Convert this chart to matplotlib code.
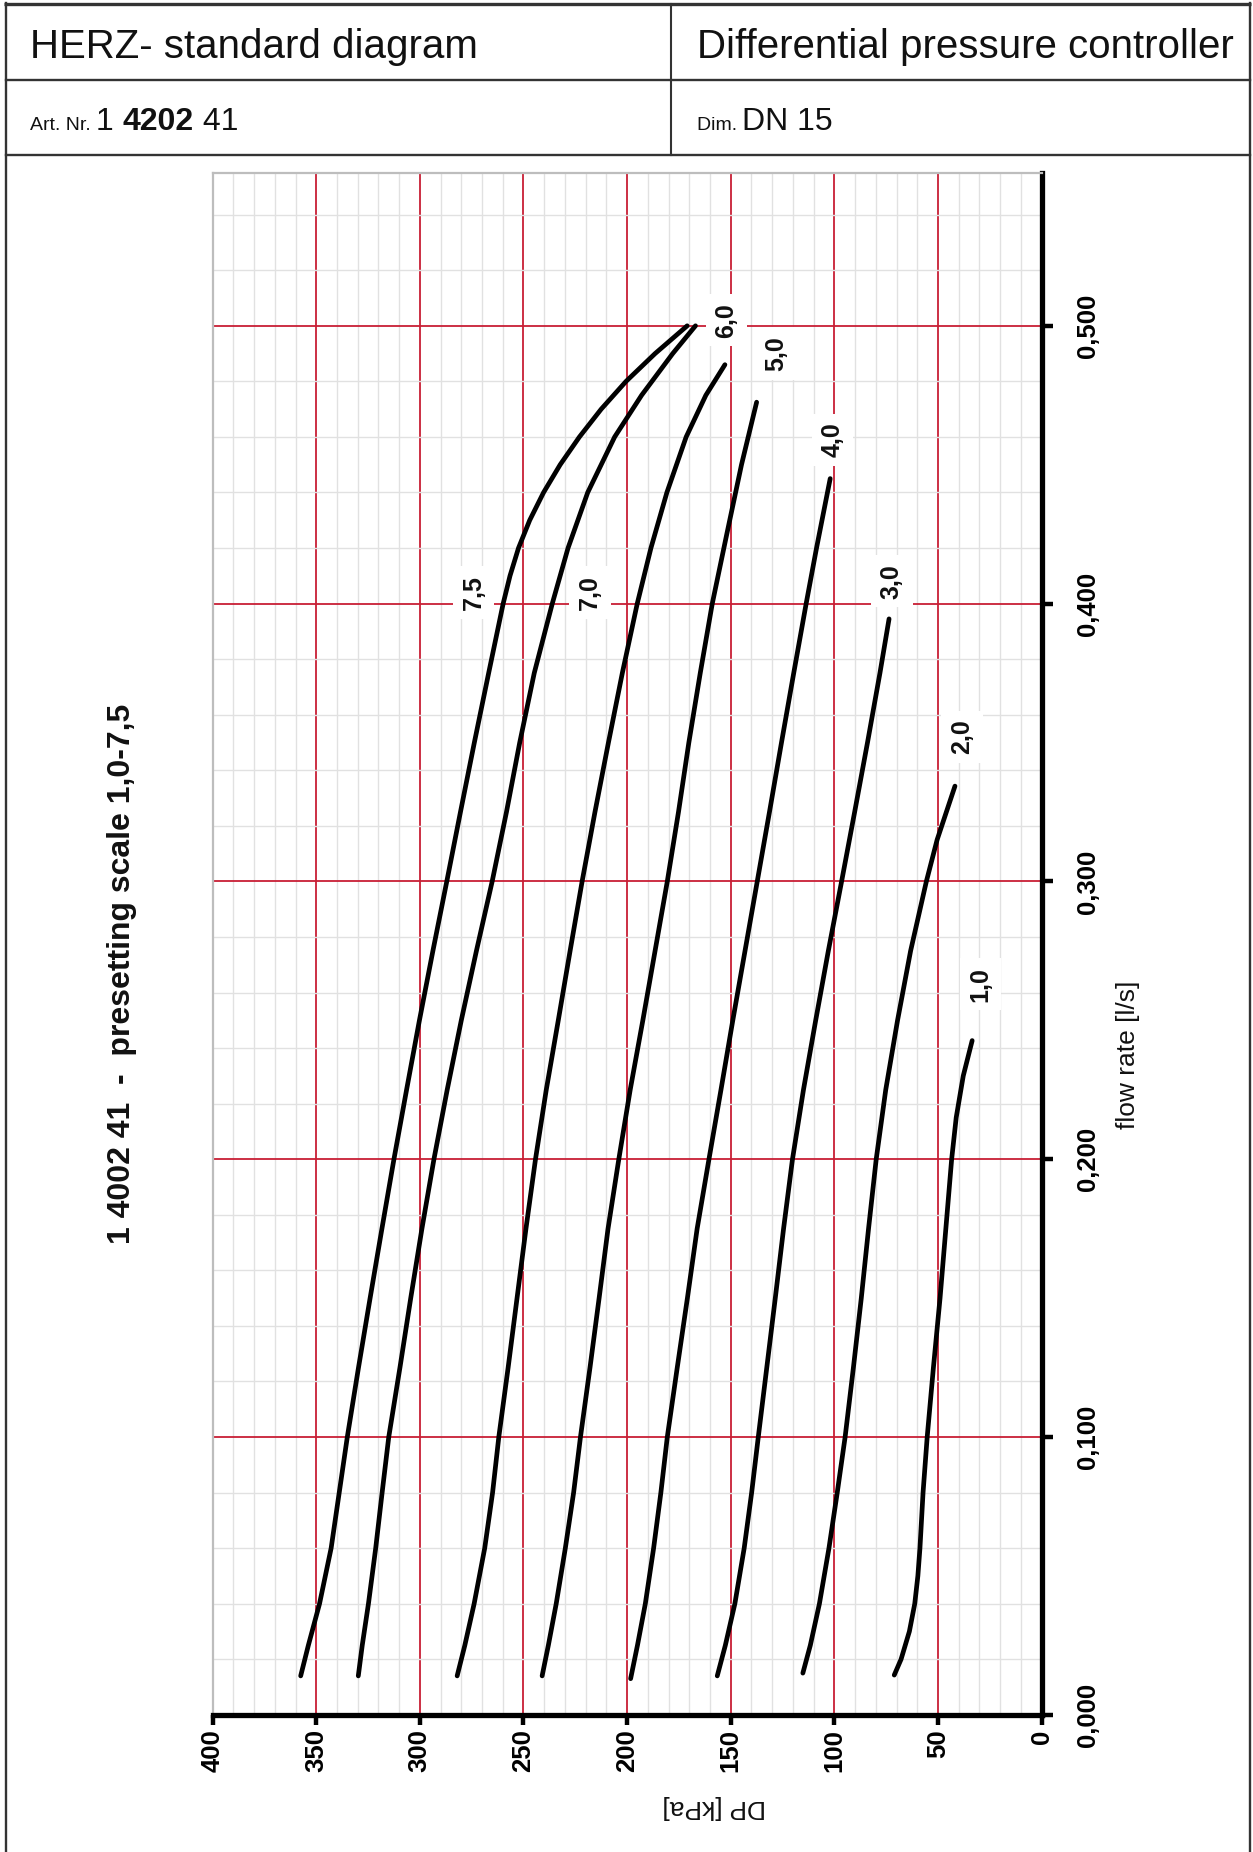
import matplotlib
matplotlib.use("Agg")
import matplotlib.pyplot as plt
from matplotlib.ticker import MultipleLocator

plt.rcParams['font.family'] = ['Liberation Sans', 'DejaVu Sans']

# ---- characteristic curves: flow rate [l/s] and differential pressure [kPa] ----
q_7_5 = [0.014, 0.025, 0.040, 0.060, 0.080, 0.100, 0.125, 0.150, 0.175, 0.200, 0.225, 0.250,
         0.275, 0.300, 0.325, 0.350, 0.375, 0.400, 0.410, 0.420, 0.430, 0.440, 0.450, 0.460,
         0.470, 0.480, 0.490, 0.500]
dp_7_5 = [357.5, 353.8, 348.4, 342.8, 338.9, 335.0, 329.6, 324.0, 318.3, 312.5, 306.4, 300.2,
          293.7, 287.0, 280.4, 273.7, 266.8, 259.8, 256.5, 252.4, 247.0, 240.3, 232.3, 223.0,
          212.5, 200.5, 186.5, 171.0]

q_7_0 = [0.014, 0.025, 0.040, 0.060, 0.080, 0.100, 0.125, 0.150, 0.175, 0.200, 0.225, 0.250,
         0.275, 0.300, 0.325, 0.350, 0.375, 0.400, 0.420, 0.440, 0.460, 0.475, 0.490, 0.500]
dp_7_0 = [329.7, 327.8, 324.8, 321.3, 318.2, 315.0, 309.6, 304.4, 299.0, 293.2, 286.8, 280.0,
          272.7, 265.1, 258.2, 251.8, 244.8, 236.1, 228.5, 219.0, 206.0, 193.0, 178.0, 167.0]

q_6_0 = [0.014, 0.025, 0.040, 0.060, 0.080, 0.100, 0.125, 0.150, 0.175, 0.200, 0.225, 0.250,
         0.275, 0.300, 0.325, 0.350, 0.375, 0.400, 0.420, 0.440, 0.460, 0.475, 0.486]
dp_6_0 = [282.0, 278.3, 273.8, 268.7, 264.9, 261.9, 257.4, 253.1, 248.8, 244.2, 239.0, 233.2,
          227.5, 221.7, 215.5, 209.0, 202.3, 195.1, 188.5, 180.8, 171.5, 162.0, 152.8]

q_5_0 = [0.014, 0.025, 0.040, 0.060, 0.080, 0.100, 0.125, 0.150, 0.175, 0.200, 0.225, 0.250,
         0.275, 0.300, 0.325, 0.350, 0.375, 0.400, 0.425, 0.450, 0.4725]
dp_5_0 = [241.0, 238.0, 234.2, 229.8, 225.8, 222.5, 217.9, 213.5, 209.2, 204.0, 198.5, 192.4,
          186.5, 180.6, 175.2, 170.2, 164.7, 158.9, 151.9, 144.8, 137.5]

q_4_0 = [0.013, 0.025, 0.040, 0.060, 0.080, 0.100, 0.125, 0.150, 0.175, 0.200, 0.225, 0.250,
         0.275, 0.300, 0.325, 0.350, 0.375, 0.400, 0.420, 0.445]
dp_4_0 = [198.3, 195.0, 191.2, 187.2, 183.7, 180.6, 175.8, 170.9, 166.2, 160.5, 154.7, 149.0,
          143.1, 137.2, 131.3, 125.5, 119.6, 113.6, 108.6, 102.0]

q_3_0 = [0.014, 0.025, 0.040, 0.060, 0.080, 0.100, 0.125, 0.150, 0.175, 0.200, 0.225, 0.250,
         0.275, 0.300, 0.325, 0.350, 0.375, 0.3945]
dp_3_0 = [156.5, 152.6, 148.0, 143.5, 139.9, 136.7, 132.6, 128.5, 124.5, 120.2, 114.9, 109.0,
          102.9, 96.5, 90.2, 84.0, 78.0, 73.6]

q_2_0 = [0.015, 0.025, 0.040, 0.060, 0.080, 0.100, 0.125, 0.150, 0.175, 0.200, 0.225, 0.250,
         0.275, 0.300, 0.315, 0.3343]
dp_2_0 = [115.2, 111.6, 107.2, 102.6, 98.6, 94.8, 90.8, 87.0, 83.5, 79.8, 75.2, 69.5,
          63.2, 55.6, 50.4, 41.8]

q_1_0 = [0.0143, 0.020, 0.030, 0.040, 0.050, 0.060, 0.080, 0.100, 0.125, 0.150, 0.175, 0.200,
         0.215, 0.230, 0.2427]
dp_1_0 = [71.1, 67.8, 63.8, 61.2, 59.7, 58.7, 57.2, 55.2, 52.2, 49.0, 46.2, 43.4,
          41.2, 37.8, 33.5]

# presetting labels and where they are written
presettings = ["7,5", "7,0", "6,0", "5,0", "4,0", "3,0", "2,0", "1,0"]
label_dp = [274.0, 218.0, 152.0, 128.0, 101.0, 72.3, 38.3, 29.5]
label_q = [0.404, 0.404, 0.502, 0.490, 0.459, 0.408, 0.352, 0.263]

# axis ticks
dp_ticks = [400, 350, 300, 250, 200, 150, 100, 50, 0]
dp_tick_labels = ["400", "350", "300", "250", "200", "150", "100", "50", "0"]
q_ticks = [0.0, 0.1, 0.2, 0.3, 0.4, 0.5]
q_tick_labels = ["0,000", "0,100", "0,200", "0,300", "0,400", "0,500"]

curves = [(dp_7_5, q_7_5), (dp_7_0, q_7_0), (dp_6_0, q_6_0), (dp_5_0, q_5_0),
          (dp_4_0, q_4_0), (dp_3_0, q_3_0), (dp_2_0, q_2_0), (dp_1_0, q_1_0)]

W, H = 1253, 1852
RED = '#c81f35'
FRAME = '#333333'
INK = '#111111'

fig = plt.figure(figsize=(W / 100, H / 100), dpi=100)
fig.patch.set_facecolor('white')

# background layer in pixel coordinates for the sheet frame and captions
bg = fig.add_axes([0, 0, 1, 1])
bg.set_xlim(0, W)
bg.set_ylim(H, 0)
bg.axis('off')

bg.plot([4, 1251], [4, 4], color=FRAME, lw=2.4, solid_capstyle='butt')
bg.plot([6, 6], [3, H + 5], color=FRAME, lw=1.7)
bg.plot([1250, 1250], [3, H + 5], color=FRAME, lw=1.7)
bg.plot([6, 1250], [80, 80], color=FRAME, lw=1.7)
bg.plot([6, 1250], [155, 155], color=FRAME, lw=1.7)
bg.plot([671, 671], [4, 155], color=FRAME, lw=1.5)

bg.text(30, 57.5, "HERZ- standard diagram", fontsize=29, ha='left', va='baseline', color=INK)
bg.text(697, 57.5, "Differential pressure controller", fontsize=29, ha='left', va='baseline',
        color=INK)

fig.canvas.draw()
renderer = fig.canvas.get_renderer()


def chain(x, y, parts):
    """Write text pieces one after another on a common baseline."""
    for s, size, weight in parts:
        t = bg.text(x, y, s, fontsize=size, fontweight=weight, ha='left', va='baseline',
                    color=INK)
        bb = t.get_window_extent(renderer=renderer)
        x = bb.x1
    return x


chain(30, 130, [("Art. Nr. ", 14, 'normal'), ("1 ", 23, 'normal'),
                ("4202", 23, 'bold'), (" 41", 23, 'normal')])
chain(697, 130, [("Dim. ", 14, 'normal'), ("DN 15", 23, 'normal')])

bg.text(122, 974, "1 4002 41  -  presetting scale 1,0-7,5", rotation=90, fontsize=23,
        fontweight='bold', ha='center', va='center', color=INK)
bg.text(714, 1807, "DP [kPa]", rotation=180, fontsize=19, ha='center', va='center',
        color=INK)
bg.text(1128, 1055, "flow rate [l/s]", rotation=90, fontsize=19, ha='center', va='center',
        color=INK)

# ---- diagram ----
x0, x1 = 212.6, 1041.6
y_bot, y_top = 1714.8, 173.0
ax = fig.add_axes([x0 / W, 1 - y_bot / H, (x1 - x0) / W, (y_bot - y_top) / H])
ax.set_xlim(400, 0)
ax.set_ylim(0, 0.555)
ax.set_axisbelow(True)

ax.set_xticks(dp_ticks)
ax.set_xticklabels(dp_tick_labels)
ax.set_yticks(q_ticks)
ax.set_yticklabels(q_tick_labels)
ax.xaxis.set_minor_locator(MultipleLocator(10))
ax.yaxis.set_minor_locator(MultipleLocator(0.02))

ax.grid(which='minor', color='#e1e1e1', lw=1.0)
ax.grid(which='major', color=RED, lw=1.3)

ax.yaxis.tick_right()
ax.tick_params(which='minor', length=0)
ax.tick_params(axis='x', which='major', direction='out', length=7.5, width=3.2, color='black',
               pad=3, labelsize=18.5, labelrotation=90)
ax.tick_params(axis='y', which='major', direction='out', length=8, width=3.2, color='black',
               pad=17, labelsize=18.5, labelrotation=90)
for lab in ax.get_xticklabels() + ax.get_yticklabels():
    lab.set_fontweight('bold')
for lab in ax.get_yticklabels():
    lab.set_va('center')

for side in ('left', 'top'):
    ax.spines[side].set_color('#bdbdbd')
    ax.spines[side].set_linewidth(1.6)
for side in ('bottom', 'right'):
    ax.spines[side].set_color('black')
    ax.spines[side].set_linewidth(3.8)
    ax.spines[side].set_capstyle('projecting')

for dp, q in curves:
    ax.plot(dp, q, color='black', lw=3.4, solid_capstyle='round', solid_joinstyle='round',
            zorder=3)

for s, dp, q in zip(presettings, label_dp, label_q):
    ax.text(dp, q, s, rotation=90, ha='center', va='center', fontsize=18, fontweight='bold',
            color=INK, zorder=5,
            bbox=dict(boxstyle='square,pad=0.35', fc='white', ec='none'))

fig.savefig("out.png", dpi=100, facecolor='white')
